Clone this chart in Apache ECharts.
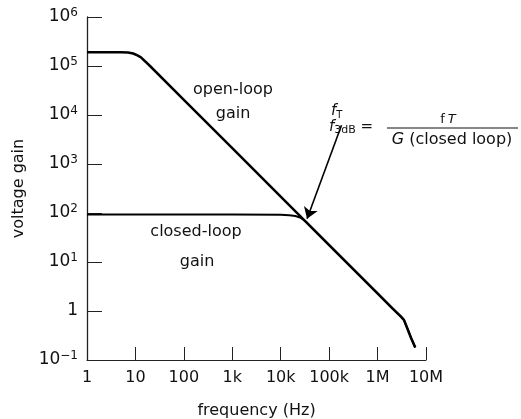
<!DOCTYPE html>
<html><head><meta charset="utf-8">
<script src="https://cdn.jsdelivr.net/npm/echarts@6/dist/echarts.min.js"></script>
<style>html,body{margin:0;padding:0;background:#fff}#c{width:521px;height:419px}</style>
</head><body><div id="c"></div>
<script>
// Frequency (Hz) and voltage gain
const openLoopFreq = [1, 5, 7, 9, 11, 13, 20, 100, 1e3, 1e4, 1e5, 1e6, 2e6, 3e6, 3.5e6, 4.2e6, 5e6, 6e6];
const openLoopGain = [1.9e5, 1.9e5, 1.88e5, 1.8e5, 1.65e5, 1.5e5, 1.0e5, 2.04e4, 2.1e3, 216, 22.2, 2.28, 1.15, 0.78, 0.66, 0.42, 0.27, 0.18];
const closedLoopFreq = [1, 10, 100, 1e3, 1e4, 1.5e4, 2e4, 2.5e4, 3e4, 3.5e4, 1e5, 1e6, 2e6, 3e6, 3.5e6, 4.2e6, 5e6, 6e6];
const closedLoopGain = [93, 93, 93, 93, 92, 90, 87, 81, 72, 63, 22.2, 2.28, 1.15, 0.78, 0.66, 0.42, 0.27, 0.18];
const freqTickLabels = ['1', '10', '100', '1k', '10k', '100k', '1M', '10M'];
const gainTickExponents = [-1, 0, 1, 2, 3, 4, 5, 6];
const arrowFrom = [180000, 6200];
const arrowTo = [35000, 76];

const FONT = 'DejaVu Sans';
const chart = echarts.init(document.getElementById('c'));
const pair = (xs, ys) => xs.map((x, i) => [x, ys[i]]);

chart.setOption({
  animation: false,
  backgroundColor: '#fff',
  textStyle: { fontFamily: FONT, color: '#111' },
  grid: { left: 87, right: 95, top: 17, bottom: 59, containLabel: false, outerBoundsMode: 'none' },
  xAxis: {
    type: 'log', logBase: 10, min: 1, max: 1e7, interval: 1,
    name: 'frequency (Hz)', nameLocation: 'middle', nameGap: 43,
    nameTextStyle: { fontFamily: FONT, fontSize: 16, color: '#111' },
    axisLine: { lineStyle: { color: '#222', width: 1 } },
    axisTick: { inside: true, length: 13, lineStyle: { color: '#222', width: 1 } },
    axisLabel: {
      margin: 10, fontFamily: FONT, fontSize: 16, color: '#111',
      formatter: v => freqTickLabels[Math.round(Math.log10(v))] || ''
    },
    splitLine: { show: false }, minorTick: { show: false }
  },
  yAxis: {
    type: 'log', logBase: 10, min: 0.1, max: 1e6, interval: 1,
    name: 'voltage gain', nameLocation: 'middle', nameGap: 60,
    nameTextStyle: { fontFamily: FONT, fontSize: 16, color: '#111' },
    axisLine: { lineStyle: { color: '#222', width: 1.3 } },
    axisTick: { inside: true, length: 15, lineStyle: { color: '#222', width: 1 } },
    axisLabel: {
      margin: 9, color: '#111',
      formatter: v => {
        const e = Math.round(Math.log10(v));
        if (gainTickExponents.indexOf(e) < 0) return '';
        if (e === 0) return '{b|1}';
        return '{b|10}{s|' + (e < 0 ? '\u2212' + (-e) : e) + '}';
      },
      rich: {
        b: { fontFamily: FONT, fontSize: 17, lineHeight: 20, color: '#111' },
        s: { fontFamily: FONT, fontSize: 12, lineHeight: 12, verticalAlign: 'top', color: '#111' }
      }
    },
    splitLine: { show: false }, minorTick: { show: false }
  },
  series: [
    {
      name: 'open-loop gain', type: 'line', data: pair(openLoopFreq, openLoopGain),
      showSymbol: false, symbol: 'none', smooth: false,
      lineStyle: { color: '#000', width: 2.5 }, z: 3
    },
    {
      name: 'closed-loop gain', type: 'line', data: pair(closedLoopFreq, closedLoopGain),
      showSymbol: false, symbol: 'none', smooth: false,
      lineStyle: { color: '#000', width: 2 }, z: 3,
      markLine: {
        silent: true, symbol: ['none', 'arrow'], symbolSize: 11,
        label: { show: false }, z: 5,
        lineStyle: { color: '#000', width: 1.6, type: 'solid' },
        itemStyle: { color: '#000' },
        data: [[{ coord: arrowFrom }, { coord: arrowTo }]]
      }
    }
  ],
  graphic: [
    { type: 'text', x: 233, y: 90, style: { text: 'open-loop', font: '16px "DejaVu Sans"', fill: '#111', align: 'center', verticalAlign: 'middle', textAlign: 'center', textVerticalAlign: 'middle' } },
    { type: 'text', x: 233, y: 114, style: { text: 'gain', font: '16px "DejaVu Sans"', fill: '#111', align: 'center', verticalAlign: 'middle', textAlign: 'center', textVerticalAlign: 'middle' } },
    { type: 'text', x: 196, y: 232, style: { text: 'closed-loop', font: '16px "DejaVu Sans"', fill: '#111', align: 'center', verticalAlign: 'middle', textAlign: 'center', textVerticalAlign: 'middle' } },
    { type: 'text', x: 197, y: 262, style: { text: 'gain', font: '16px "DejaVu Sans"', fill: '#111', align: 'center', verticalAlign: 'middle', textAlign: 'center', textVerticalAlign: 'middle' } },
    { type: 'text', x: 331, y: 111, style: {
        text: '{i|f}{sub|T}', align: 'left', verticalAlign: 'middle', textAlign: 'left', textVerticalAlign: 'middle',
        rich: { i: { fontFamily: FONT, fontStyle: 'italic', fontSize: 15, lineHeight: 18, fill: '#111', color: '#111' },
                sub: { fontFamily: FONT, fontSize: 10, lineHeight: 10, verticalAlign: 'bottom', fill: '#111', color: '#111' } } } },
    { type: 'text', x: 329, y: 127, style: {
        text: '{i|f}{sub|3dB}{n| =}', align: 'left', verticalAlign: 'middle', textAlign: 'left', textVerticalAlign: 'middle',
        rich: { i: { fontFamily: FONT, fontStyle: 'italic', fontSize: 15, lineHeight: 18, fill: '#111', color: '#111' },
                sub: { fontFamily: FONT, fontSize: 11, lineHeight: 11, verticalAlign: 'bottom', fill: '#111', color: '#111' },
                n: { fontFamily: FONT, fontSize: 15, lineHeight: 18, fill: '#111', color: '#111' } } } },
    { type: 'text', x: 448, y: 120, style: {
        text: '{n|f}{it|T}', align: 'center', verticalAlign: 'middle', textAlign: 'center', textVerticalAlign: 'middle',
        rich: { n: { fontFamily: FONT, fontSize: 13, lineHeight: 16, fill: '#111', color: '#111' },
                it: { fontFamily: FONT, fontStyle: 'italic', fontSize: 13, lineHeight: 16, fill: '#111', color: '#111', padding: [0, 0, 0, 3] } } } },
    { type: 'line', shape: { x1: 387, y1: 128, x2: 518, y2: 128 }, style: { stroke: '#111', lineWidth: 1.2 } },
    { type: 'text', x: 452, y: 140, style: {
        text: '{it|G} (closed loop)', align: 'center', verticalAlign: 'middle', textAlign: 'center', textVerticalAlign: 'middle',
        rich: { it: { fontFamily: FONT, fontStyle: 'italic', fontSize: 16, lineHeight: 18, fill: '#111', color: '#111' } },
        font: '16px "DejaVu Sans"', fill: '#111' } }
  ]
});
</script>
</body></html>
